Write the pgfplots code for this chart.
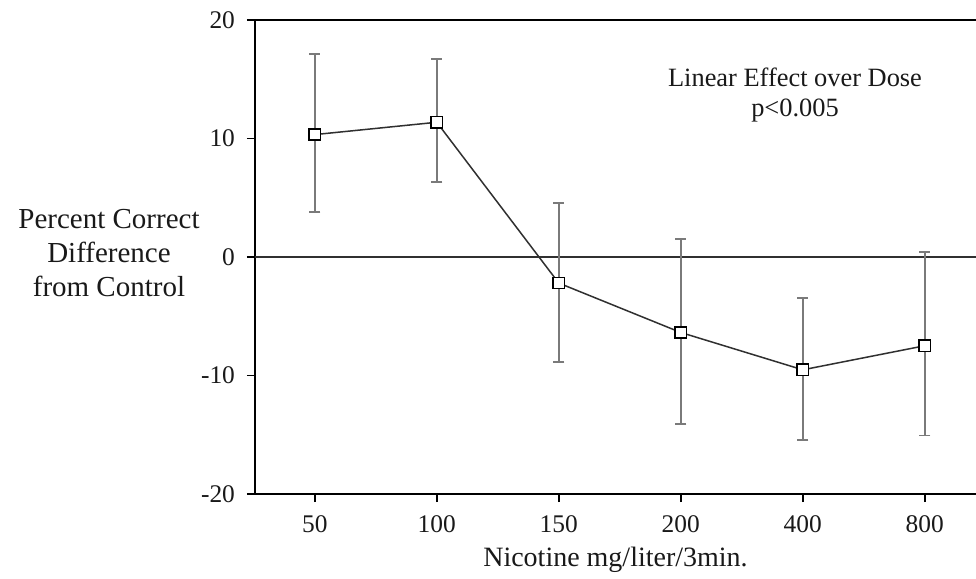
\documentclass[border=0pt]{standalone}
\usepackage{pgfplots}
\usepackage{pgfplotstable}
\pgfplotsset{compat=1.18}
\usepackage{fontspec}
\setmainfont{Liberation Serif}

\definecolor{barcol}{HTML}{7A7A7A}
\definecolor{linecol}{HTML}{303030}

% dose index, mean, upper and lower error
\pgfplotstableread{
x  y       ep    em
0  10.33   6.77  6.50
1  11.37   5.33  5.04
2  -2.20   6.76  6.64
3  -6.37   7.89  7.73
4  -9.52   6.06  5.91
5  -7.49   7.88  7.58
}\dosedata

\begin{document}
\begin{tikzpicture}
\begin{axis}[
   scale only axis,
   width=360.5pt, height=237pt,
   xmin=-0.49, xmax=5.42,
   ymin=-20, ymax=20,
   axis lines*=left,
   axis line style={-, line width=1pt, black},
   tick align=outside,
   major tick length=4pt,
   tick style={line width=0.8pt, black},
   xtick={0,1,2,3,4,5},
   xticklabels={50,100,150,200,400,800},
   ytick={-20,-10,0,10,20},
   /pgf/number format/assume math mode=true,
   ticklabel style={font=\fontsize{12.7}{14}\selectfont, text=black!90},
   xticklabel style={yshift=-3.5pt},
   yticklabel style={xshift=-2.5pt},
   xlabel={Nicotine mg/liter/3min.},
   xlabel style={font=\fontsize{14}{16}\selectfont, text=black!90, at={(rel axis cs:0.5,0)}, anchor=center, yshift=-33pt},
   ylabel={Percent Correct\\Difference\\from Control},
   ylabel style={rotate=-90, align=center, font=\fontsize{14.5}{17}\selectfont, text=black!90,
                 at={(rel axis cs:0,0.5)}, anchor=center, xshift=-73pt, yshift=2pt},
   clip=false,
]
\coordinate (BL) at (rel axis cs:0,0);
\coordinate (TR) at (rel axis cs:1,1);
\draw[line width=1pt, black] (rel axis cs:0,1) -- (rel axis cs:1,1);
\draw[line width=0.8pt, linecol] (axis cs:-0.49,0) -- (axis cs:5.42,0);

\addplot[
   color=linecol, line width=0.75pt,
   mark=square*, mark size=2.8pt,
   mark options={fill=white, draw=black, line width=0.8pt, solid},
   error bars/.cd,
     y dir=both, y explicit,
     error bar style={barcol, line width=0.9pt},
     error mark options={rotate=90, barcol, line width=0.9pt, mark size=2.8pt},
] table[x=x, y=y, y error plus=ep, y error minus=em] {\dosedata};

\node[align=center, font=\fontsize{13.2}{15}\selectfont, text=black!90]
   at (rel axis cs:0.749,0.842) {Linear Effect over Dose\\p<0.005};
\end{axis}
\pgfresetboundingbox
\path (BL) ++(-127.5pt,-42.5pt) coordinate (BBL);
\path (TR) ++(0pt,10pt) coordinate (BTR);
\useasboundingbox (BBL) rectangle (BTR);
\end{tikzpicture}
\end{document}
